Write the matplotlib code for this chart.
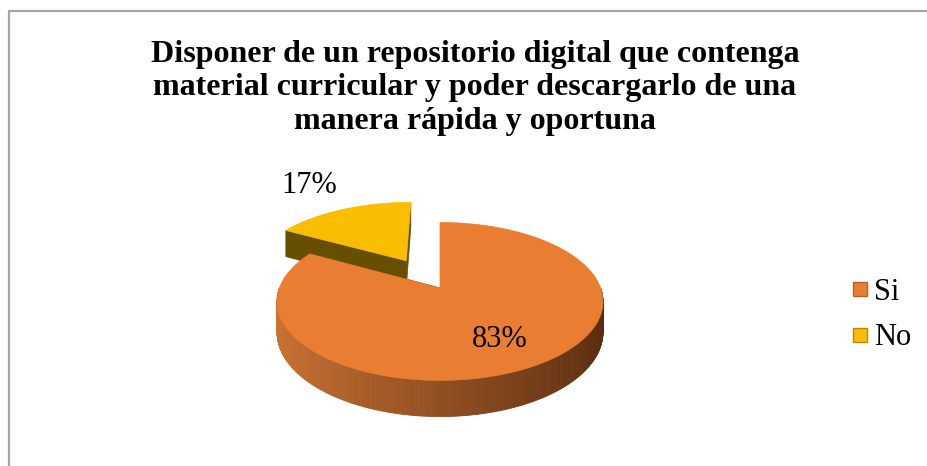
import numpy as np
import matplotlib.pyplot as plt
from matplotlib.patches import Polygon
from matplotlib.lines import Line2D

title = ('Disponer de un repositorio digital que contenga\n'
         'material curricular y poder descargarlo de una\n'
         'manera rápida y oportuna')
labels = ['Si', 'No']
shares = [83, 17]
explode = [0.0, 0.44]
top_colors = ['#E97D31', '#F9BE00']
edge_colors = ['#B8602A', '#B8860B']
side_light = [(0.80, 0.45, 0.20), (0.44, 0.34, 0.02)]
side_dark = [(0.34, 0.17, 0.06), (0.40, 0.31, 0.0)]

plt.rcParams['font.family'] = ['Liberation Serif', 'DejaVu Serif']

fig = plt.figure(figsize=(9.28, 4.66), dpi=100)
ax = fig.add_axes([0, 0, 1, 1])
ax.set_xlim(0, 928)
ax.set_ylim(466, 0)
ax.axis('off')

# simple perspective view of a flat disc (pixels)
cx, cy = 440, 288
A, B, V, k = 160.6, 76.7, 30, 0.17


def proj(X, D, H=0.0):
    # X: left/right, D: depth (away from viewer), H: 0 top face, -1 bottom
    s = 1.0 / (1.0 + k * D)
    return cx + A * X * s, cy - s * (B * D + V * H)


def mix(c1, c2, f):
    return tuple(c1[j] + (c2[j] - c1[j]) * f for j in range(3))


# angles: start at 12 o'clock, clockwise
total = float(sum(shares))
starts, ends = [], []
ang = np.pi / 2
for s in shares:
    starts.append(ang)
    ang -= 2 * np.pi * s / total
    ends.append(ang)

# back slice (No) first, then Si
for i in [1, 0]:
    t0, t1 = starts[i], ends[i]
    mid = (t0 + t1) / 2
    ex, ed = explode[i] * np.cos(mid), explode[i] * np.sin(mid)
    c_top = proj(ex, ed)
    c_bot = proj(ex, ed, -1)

    # radial side faces
    for t in [t0, t1]:
        p_top = proj(ex + np.cos(t), ed + np.sin(t))
        p_bot = proj(ex + np.cos(t), ed + np.sin(t), -1)
        ax.add_patch(Polygon([c_top, p_top, p_bot, c_bot], closed=True,
                             fc=side_dark[i], ec=side_dark[i], lw=0.5))

    # outer curved side, front half only, with gradient
    ts = np.linspace(t0, t1, 400)
    for j in range(len(ts) - 1):
        ta, tb = ts[j], ts[j + 1]
        if np.sin((ta + tb) / 2) > 0:
            continue
        quad = [proj(ex + np.cos(ta), ed + np.sin(ta)),
                proj(ex + np.cos(tb), ed + np.sin(tb)),
                proj(ex + np.cos(tb), ed + np.sin(tb), -1),
                proj(ex + np.cos(ta), ed + np.sin(ta), -1)]
        f = (np.cos((ta + tb) / 2) + 1) / 2
        col = mix(side_light[i], side_dark[i], f)
        ax.add_patch(Polygon(quad, closed=True, fc=col, ec=col, lw=0.6))

    # top face
    tt = np.linspace(t0, t1, 200)
    verts = [c_top] + [proj(ex + np.cos(t), ed + np.sin(t)) for t in tt]
    ax.add_patch(Polygon(verts, closed=True, fc=top_colors[i], ec=top_colors[i], lw=0.5))

# data labels
for i, r in [(0, 0.66), (1, 1.65)]:
    mid = (starts[i] + ends[i]) / 2
    ex, ed = explode[i] * np.cos(mid), explode[i] * np.sin(mid)
    lx, ly = proj(ex + r * np.cos(mid), ed + r * np.sin(mid))
    ax.text(lx, ly + 3, f'{shares[i]}%', ha='center', va='center', fontsize=22)

ax.text(475, 40, title, ha='center', va='top', fontsize=23, fontweight='bold',
        linespacing=1.2)

handles = [Line2D([], [], ls='none', marker='s', markersize=9.5,
                  markerfacecolor=top_colors[i], markeredgecolor=edge_colors[i])
           for i in range(2)]
ax.legend(handles, labels, loc='center left', bbox_to_anchor=(851 / 928, 1 - 315 / 466),
          frameon=False, fontsize=22, handlelength=0.6, handletextpad=0.15,
          labelspacing=0.55, borderpad=0, borderaxespad=0)

# chart border (cropped at right and bottom)
ax.plot([9.5, 9.5, 928], [466, 10.5, 10.5], color='#a6a6a6', lw=1.6)

fig.savefig('out.png', dpi=100)
